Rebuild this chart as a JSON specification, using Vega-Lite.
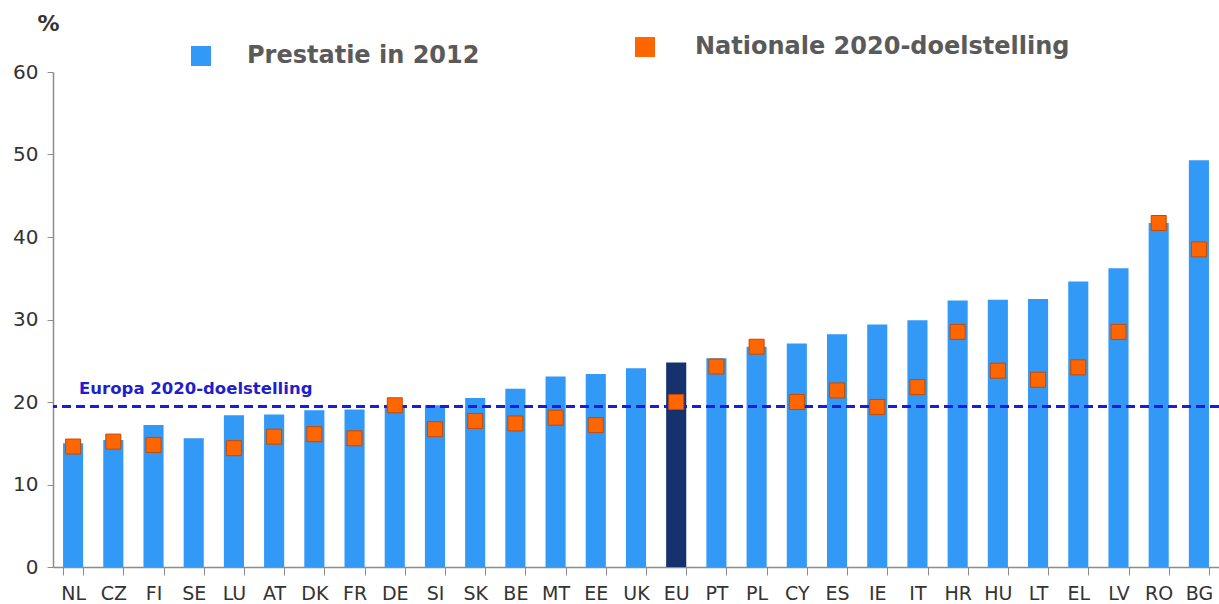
{
  "$schema": "https://vega.github.io/schema/vega-lite/v6.json",
  "width": 1166,
  "height": 495,
  "autosize": {"type": "none"},
  "padding": {"left": 53, "top": 72, "right": 0, "bottom": 37},
  "background": "white",
  "config": {
    "view": {"stroke": null},
    "font": "DejaVu Sans"
  },
  "datasets": {
    "rows": [
      {"country": "NL", "performance": 15.0, "target": 14.6},
      {"country": "CZ", "performance": 15.4, "target": 15.2},
      {"country": "FI", "performance": 17.2, "target": 14.8},
      {"country": "SE", "performance": 15.6, "target": null},
      {"country": "LU", "performance": 18.4, "target": 14.4},
      {"country": "AT", "performance": 18.5, "target": 15.8},
      {"country": "DK", "performance": 19.0, "target": 16.1},
      {"country": "FR", "performance": 19.1, "target": 15.6},
      {"country": "DE", "performance": 19.6, "target": 19.6},
      {"country": "SI", "performance": 19.6, "target": 16.7},
      {"country": "SK", "performance": 20.5, "target": 17.7},
      {"country": "BE", "performance": 21.6, "target": 17.4},
      {"country": "MT", "performance": 23.1, "target": 18.1},
      {"country": "EE", "performance": 23.4, "target": 17.2},
      {"country": "UK", "performance": 24.1, "target": null},
      {"country": "EU", "performance": 24.8, "target": 20.0},
      {"country": "PT", "performance": 25.3, "target": 24.3},
      {"country": "PL", "performance": 26.7, "target": 26.7},
      {"country": "CY", "performance": 27.1, "target": 20.0},
      {"country": "ES", "performance": 28.2, "target": 21.4},
      {"country": "IE", "performance": 29.4, "target": 19.4},
      {"country": "IT", "performance": 29.9, "target": 21.8},
      {"country": "HR", "performance": 32.3, "target": 28.5},
      {"country": "HU", "performance": 32.4, "target": 23.8},
      {"country": "LT", "performance": 32.5, "target": 22.7},
      {"country": "EL", "performance": 34.6, "target": 24.2},
      {"country": "LV", "performance": 36.2, "target": 28.5},
      {"country": "RO", "performance": 41.7, "target": 41.7},
      {"country": "BG", "performance": 49.3, "target": 38.5}
    ],
    "europe": [
      {"goal": 19.45, "label": "Europa 2020-doelstelling", "anchor": "NL"}
    ]
  },
  "data": {"name": "rows"},
  "encoding": {
    "x": {
      "field": "country",
      "type": "nominal",
      "sort": null,
      "scale": {"paddingInner": 0.5, "paddingOuter": 0.25},
      "axis": {
        "title": null,
        "labelAngle": 0,
        "labelFontSize": 19,
        "labelColor": "#333333",
        "labelPadding": 9,
        "tickBand": "extent",
        "tickColor": "#8c8c8c",
        "tickSize": 8,
        "domainColor": "#8c8c8c",
        "domainWidth": 1.5
      }
    }
  },
  "layer": [
    {
      "mark": {"type": "bar"},
      "encoding": {
        "y": {
          "field": "performance",
          "type": "quantitative",
          "scale": {"domain": [0, 60]},
          "axis": {
            "title": "%",
            "titleAngle": 0,
            "titleX": -5,
            "titleY": -49,
            "titleAlign": "center",
            "titleBaseline": "middle",
            "titleFontSize": 22,
            "titleFontWeight": "bold",
            "titleColor": "#333333",
            "values": [0, 10, 20, 30, 40, 50, 60],
            "grid": false,
            "labelFontSize": 20,
            "labelColor": "#333333",
            "labelPadding": 9,
            "tickColor": "#8c8c8c",
            "tickSize": 6,
            "domainColor": "#8c8c8c",
            "domainWidth": 1.5
          }
        },
        "color": {
          "condition": {"test": "datum.country === 'EU'", "value": "#15326e"},
          "datum": "Prestatie in 2012",
          "scale": {"range": ["#3399f7"]},
          "legend": {
            "orient": "none",
            "legendX": 136,
            "legendY": -28,
            "title": null,
            "padding": 0,
            "symbolType": "square",
            "symbolSize": 400,
            "symbolStrokeWidth": 0,
            "labelFontSize": 24,
            "labelFontWeight": "bold",
            "labelColor": "#5a5a5a",
            "labelOffset": 34,
            "labelLimit": 500
          }
        }
      }
    },
    {
      "data": {"name": "europe"},
      "mark": {"type": "rule", "color": "#1a1ae0", "strokeWidth": 3, "strokeDash": [9, 5]},
      "encoding": {"x": null, "y": {"field": "goal", "type": "quantitative"}}
    },
    {
      "data": {"name": "europe"},
      "mark": {"type": "text", "align": "left", "baseline": "alphabetic", "dx": 6, "dy": -13, "fontSize": 16.5, "fontWeight": "bold", "fill": "#1f1fcc"},
      "encoding": {
        "x": {"field": "anchor", "type": "nominal", "sort": null},
        "y": {"field": "goal", "type": "quantitative"},
        "text": {"field": "label"}
      }
    },
    {
      "mark": {"type": "square", "size": 225, "filled": true, "opacity": 1, "stroke": "#c84800", "strokeWidth": 1},
      "transform": [{"filter": "datum.target != null"}],
      "encoding": {
        "y": {"field": "target", "type": "quantitative"},
        "fill": {
          "datum": "Nationale 2020-doelstelling",
          "scale": {"range": ["#ff6600"]},
          "legend": {
            "orient": "none",
            "legendX": 580,
            "legendY": -37,
            "title": null,
            "padding": 0,
            "symbolType": "square",
            "symbolSize": 400,
            "symbolStrokeWidth": 0,
            "labelFontSize": 24,
            "labelFontWeight": "bold",
            "labelColor": "#5a5a5a",
            "labelOffset": 38,
            "labelLimit": 500
          }
        }
      }
    }
  ],
  "resolve": {"scale": {"color": "independent", "fill": "independent"}}
}
